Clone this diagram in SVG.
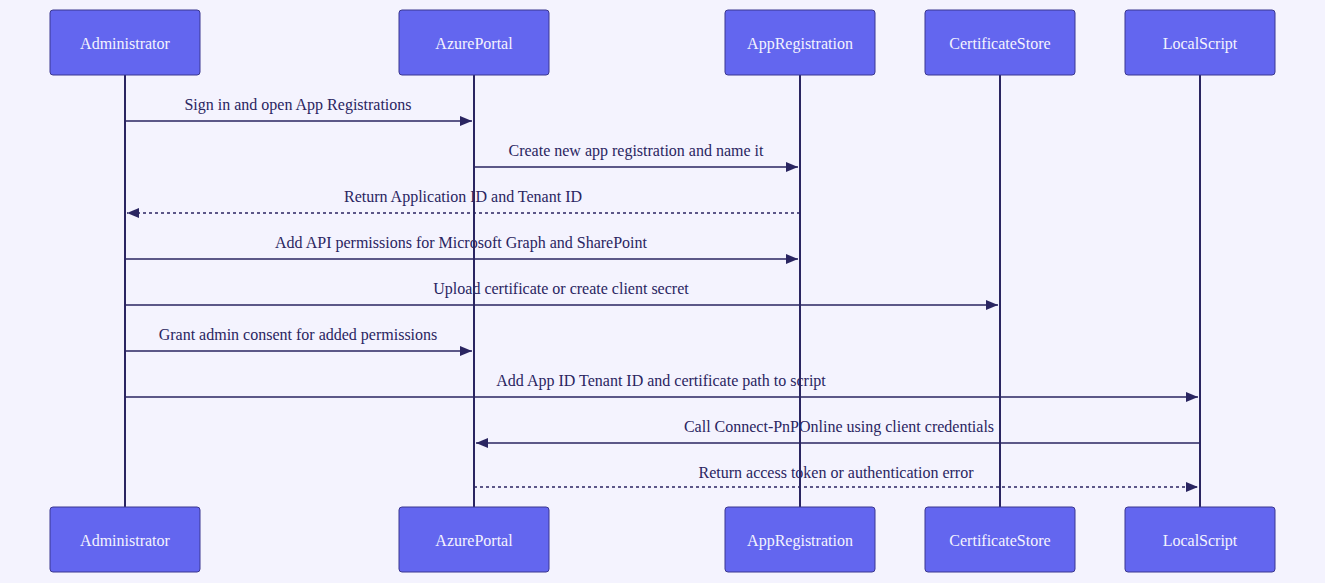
<svg xmlns="http://www.w3.org/2000/svg" width="1325" height="583" viewBox="0 0 1325 583">
<style>
.box{fill:#6366ef;stroke:#3b3790;stroke-width:1}
.bt{font-family:"Liberation Serif",serif;font-size:16px;fill:#f4f3fe;text-anchor:middle;dominant-baseline:central}
.life{stroke:#2a2561;stroke-width:2}
.msg{stroke:#2a2561;stroke-width:1.5;fill:none;marker-end:url(#ah)}
.dash{stroke-dasharray:3,3}
.mt{font-family:"Liberation Serif",serif;font-size:16px;fill:#2a2561;text-anchor:middle}
</style>
<defs><marker id="ah" viewBox="0 0 12 10" refX="12" refY="5" markerWidth="12" markerHeight="10" markerUnits="userSpaceOnUse" orient="auto"><path d="M0,0L12,5L0,10z" fill="#2a2561"/></marker></defs>
<rect width="1325" height="583" fill="#f4f3fe"/>
<g id="lifelines">
<line class="life" x1="125" y1="75" x2="125" y2="507"/>
<line class="life" x1="474" y1="75" x2="474" y2="507"/>
<line class="life" x1="800" y1="75" x2="800" y2="507"/>
<line class="life" x1="1000" y1="75" x2="1000" y2="507"/>
<line class="life" x1="1200" y1="75" x2="1200" y2="507"/>
</g>
<g id="Administrator"><rect class="box" x="50" y="10" width="150" height="65" rx="3"/><text class="bt" x="125" y="43">Administrator</text><rect class="box" x="50" y="507" width="150" height="65" rx="3"/><text class="bt" x="125" y="540">Administrator</text></g>
<g id="AzurePortal"><rect class="box" x="399" y="10" width="150" height="65" rx="3"/><text class="bt" x="474" y="43">AzurePortal</text><rect class="box" x="399" y="507" width="150" height="65" rx="3"/><text class="bt" x="474" y="540">AzurePortal</text></g>
<g id="AppRegistration"><rect class="box" x="725" y="10" width="150" height="65" rx="3"/><text class="bt" x="800" y="43">AppRegistration</text><rect class="box" x="725" y="507" width="150" height="65" rx="3"/><text class="bt" x="800" y="540">AppRegistration</text></g>
<g id="CertificateStore"><rect class="box" x="925" y="10" width="150" height="65" rx="3"/><text class="bt" x="1000" y="43">CertificateStore</text><rect class="box" x="925" y="507" width="150" height="65" rx="3"/><text class="bt" x="1000" y="540">CertificateStore</text></g>
<g id="LocalScript"><rect class="box" x="1125" y="10" width="150" height="65" rx="3"/><text class="bt" x="1200" y="43">LocalScript</text><rect class="box" x="1125" y="507" width="150" height="65" rx="3"/><text class="bt" x="1200" y="540">LocalScript</text></g>
<g id="connectors">
<line class="msg" x1="125" y1="121" x2="472" y2="121"/><text class="mt" x="298" y="110">Sign in and open App Registrations</text>
<line class="msg" x1="474" y1="167" x2="798" y2="167"/><text class="mt" x="636" y="156">Create new app registration and name it</text>
<line class="msg dash" x1="800" y1="213" x2="127" y2="213"/><text class="mt" x="463" y="202">Return Application ID and Tenant ID</text>
<line class="msg" x1="125" y1="259" x2="798" y2="259"/><text class="mt" x="461" y="248">Add API permissions for Microsoft Graph and SharePoint</text>
<line class="msg" x1="125" y1="305" x2="998" y2="305"/><text class="mt" x="561" y="294">Upload certificate or create client secret</text>
<line class="msg" x1="125" y1="351" x2="472" y2="351"/><text class="mt" x="298" y="340">Grant admin consent for added permissions</text>
<line class="msg" x1="125" y1="397" x2="1198" y2="397"/><text class="mt" x="661" y="386">Add App ID Tenant ID and certificate path to script</text>
<line class="msg" x1="1200" y1="443" x2="476" y2="443"/><text class="mt" x="839" y="432">Call Connect-PnPOnline using client credentials</text>
<line class="msg dash" x1="474" y1="487" x2="1198" y2="487"/><text class="mt" x="836" y="478">Return access token or authentication error</text>
</g>
</svg>
